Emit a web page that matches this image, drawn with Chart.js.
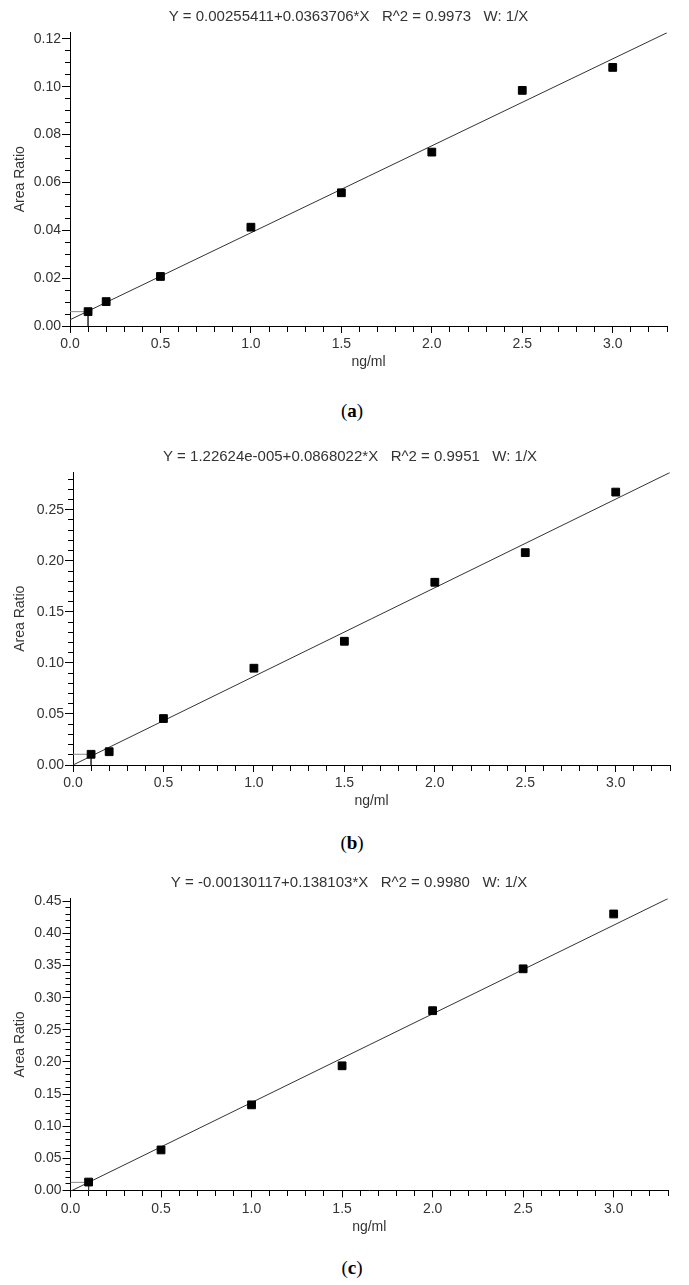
<!DOCTYPE html>
<html>
<head>
<meta charset="utf-8">
<script src="https://cdn.jsdelivr.net/npm/chart.js@4.4.1/dist/chart.umd.min.js"></script>
<style>
  html, body { margin: 0; padding: 0; background: #fff; }
  body { width: 689px; height: 1285px; position: relative; overflow: hidden; }
  canvas { position: absolute; left: 0; }
  .caption { position: absolute; left: 0; width: 704px; text-align: center;
             font: 19px "Liberation Serif", serif; line-height: 20px; color: #000; }
</style>
</head>
<body>
<canvas id="chartA" width="689" height="380" style="top:0px"></canvas>
<div class="caption" style="top:401px">(<b>a</b>)</div>
<canvas id="chartB" width="689" height="380" style="top:440px"></canvas>
<div class="caption" style="top:833px">(<b>b</b>)</div>
<canvas id="chartC" width="689" height="380" style="top:866px"></canvas>
<div class="caption" style="top:1258px">(<b>c</b>)</div>
<script>
// Concentraciones (ng/ml) y relaciones de área
const concAB = [0.1, 0.2, 0.5, 1.0, 1.5, 2.0, 2.5, 3.0];
const concC = [0.1, 0.5, 1.0, 1.5, 2.0, 2.5, 3.0];
const ratioA = [0.0060, 0.0102, 0.0207, 0.0413, 0.0557, 0.0727, 0.0985, 0.1081];
const ratioB = [0.0105, 0.0130, 0.0455, 0.0948, 0.1212, 0.1790, 0.2080, 0.2673];
const ratioC = [0.0130, 0.0630, 0.1332, 0.1940, 0.2798, 0.3450, 0.4304];

// Recta de calibración: extremos en x = 0 y x = 3.3
const fitX = [0, 3.3];
const fitA = [0.0026, 0.1226];
const fitB = [0.0000, 0.2865];
const fitC = [-0.0013, 0.4544];

// Marca del primer punto (x, y)
const lloqA = [0.1, 0.0060];
const lloqB = [0.1, 0.0105];
const lloqC = [0.1, 0.0125];

const titleA = 'Y = 0.00255411+0.0363706*X   R^2 = 0.9973   W: 1/X';
const titleB = 'Y = 1.22624e-005+0.0868022*X   R^2 = 0.9951   W: 1/X';
const titleC = 'Y = -0.00130117+0.138103*X   R^2 = 0.9980   W: 1/X';

const FONT = 'Liberation Sans';
const TEXT = '#333';
const PAD_LEFT = 30;

function buildTicks(max, step) {
    const out = [];
    for (let i = 0; i * step <= max + 1e-9; i++) out.push(+(i * step).toFixed(4));
    return out;
}

function isMajor(v, major) {
    return Math.abs(v / major - Math.round(v / major)) < 1e-6;
}

const xTicks = buildTicks(3.3, 0.1);

function makeChart(id, c) {
    const padL = PAD_LEFT;
    const padR = 689 - c.right;
    const titleH = 15 * 1.2;

    const line = (pts, color) => ({
        data: pts,
        showLine: true,
        borderColor: color,
        borderWidth: 1,
        pointRadius: 0,
        fill: false
    });

    return new Chart(document.getElementById(id), {
        type: 'scatter',
        data: {
            datasets: [
                {
                    data: c.x.map((x, i) => ({x: x, y: c.y[i]})),
                    pointStyle: 'rect',
                    pointRadius: 5.5,
                    backgroundColor: '#000',
                    borderColor: '#000',
                    borderWidth: 1
                },
                line(fitX.map((x, i) => ({x: x, y: c.fit[i]})), '#333'),
                line([{x: 0, y: c.lloq[1]}, {x: c.lloq[0], y: c.lloq[1]}], '#888'),
                line([{x: c.lloq[0], y: c.lloq[1]}, {x: c.lloq[0], y: 0}], '#444')
            ]
        },
        options: {
            responsive: false,
            animation: false,
            layout: {
                padding: {left: padL, right: padR, top: 0, bottom: 380 - c.bottom - 45}
            },
            plugins: {
                legend: {display: false},
                tooltip: {enabled: false},
                title: {
                    display: true,
                    text: c.title,
                    color: TEXT,
                    font: {family: FONT, size: 15, weight: 'normal'},
                    padding: {top: 8, bottom: c.top - 8 - titleH}
                }
            },
            scales: {
                x: {
                    type: 'linear',
                    min: 0,
                    max: 3.3,
                    border: {display: true, color: '#000', width: 1},
                    grid: {
                        display: true,
                        drawOnChartArea: false,
                        drawTicks: true,
                        tickLength: 7,
                        tickColor: '#000',
                        tickBorderDash: ctx => (ctx.tick && !isMajor(ctx.tick.value, 0.5)) ? [5, 100] : []
                    },
                    ticks: {
                        autoSkip: false,
                        maxRotation: 0,
                        padding: 3,
                        color: TEXT,
                        font: {family: FONT, size: 14},
                        callback: v => isMajor(v, 0.5) ? v.toFixed(1) : ''
                    },
                    title: {
                        display: true,
                        text: 'ng/ml',
                        color: TEXT,
                        font: {family: FONT, size: 14},
                        padding: 0
                    },
                    afterBuildTicks: s => { s.ticks = xTicks.map(v => ({value: v})); },
                    afterFit: s => { s.height = 45; }
                },
                y: {
                    type: 'linear',
                    min: 0,
                    max: c.ymax,
                    border: {display: true, color: '#000', width: 1},
                    grid: {
                        display: true,
                        drawOnChartArea: false,
                        drawTicks: true,
                        tickLength: 8,
                        tickColor: '#000',
                        tickBorderDash: ctx => (ctx.tick && !isMajor(ctx.tick.value, c.major)) ? [0, 3, 5, 100] : []
                    },
                    ticks: {
                        autoSkip: false,
                        padding: 1,
                        color: TEXT,
                        font: {family: FONT, size: 14},
                        callback: v => isMajor(v, c.major) ? v.toFixed(2) : ''
                    },
                    title: {
                        display: true,
                        text: 'Area Ratio',
                        color: TEXT,
                        font: {family: FONT, size: 14},
                        padding: {top: 20 - padL - 8.4, bottom: 0}
                    },
                    afterBuildTicks: s => { s.ticks = buildTicks(c.ymax, c.minor).map(v => ({value: v})); },
                    afterFit: s => { s.width = c.left - padL; }
                }
            }
        }
    });
}

makeChart('chartA', {
    x: concAB, y: ratioA, fit: fitA, lloq: lloqA, title: titleA,
    ymax: 0.1227, major: 0.02, minor: 0.005,
    left: 70, right: 667, top: 32.5, bottom: 326
});

makeChart('chartB', {
    x: concAB, y: ratioB, fit: fitB, lloq: lloqB, title: titleB,
    ymax: 0.2865, major: 0.05, minor: 0.01,
    left: 73, right: 670, top: 32.5, bottom: 325
});

makeChart('chartC', {
    x: concC, y: ratioC, fit: fitC, lloq: lloqC, title: titleC,
    ymax: 0.4545, major: 0.05, minor: 0.01,
    left: 70.5, right: 668, top: 32.5, bottom: 324.4
});
</script>
</body>
</html>
